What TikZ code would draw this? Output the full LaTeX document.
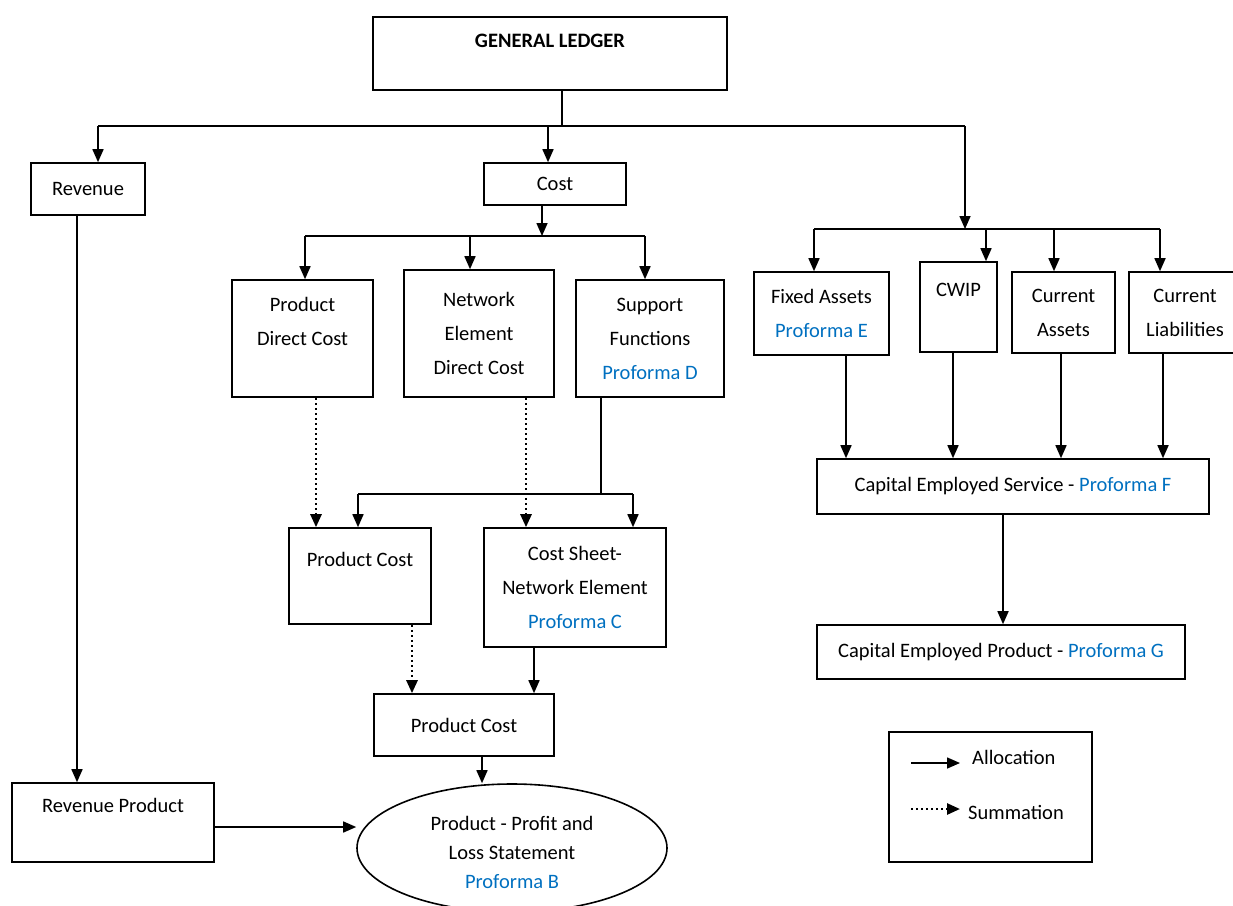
\documentclass[tikz,border=0pt]{standalone}
\usepackage{fontspec}
\setmainfont{Carlito}
\usepackage{xcolor}
\usepackage{tikz}
\usetikzlibrary{arrows.meta}
\usetikzlibrary{shapes,shapes.geometric}

\definecolor{pfblue}{RGB}{0,112,192}
\newcommand{\pform}[1]{\textcolor{pfblue}{Proforma #1}}

\begin{document}
\begin{tikzpicture}[x=1pt,y=-1pt,
    every node/.style={font=\fontsize{20.5}{34}\selectfont},
    line/.style={line width=1.6pt},
    box/.style={draw,line width=1.6pt,align=center,inner sep=0pt},
    alloc/.style={line width=1.6pt,-{Triangle[length=13pt,width=11pt]}},
    summ/.style={line width=2.6pt,dash pattern=on 2.4pt off 2.6pt,-{Triangle[length=13pt,width=11pt]}}]
  \useasboundingbox (0,0) rectangle (1233,905);

  \node[box,minimum width=354,minimum height=73] (gl) at (550,53.5) {\textbf{GENERAL LEDGER}\\[-8pt]~};
  \node[box,minimum width=114,minimum height=52] (rev) at (88,189) {Revenue};
  \node[box,minimum width=142,minimum height=42] (cost) at (555,184) {Cost};
  \node[box,minimum width=141,minimum height=117] (pdc) at (302.5,338.5) {Product\\Direct Cost\\~};
  \node[box,minimum width=150,minimum height=127] (nedc) at (479,333.5) {Network\\Element\\Direct Cost};
  \node[box,minimum width=148,minimum height=117] (sup) at (650,338.5) {Support\\Functions\\\pform{D}};
  \node[box,minimum width=142,minimum height=96] (pc1) at (360,576) {Product Cost\\~};
  \node[box,minimum width=182,minimum height=119] (cs) at (575,587.5) {Cost Sheet-\\Network Element\\\pform{C}};
  \node[box,minimum width=180,minimum height=62] (pc2) at (464,725) {Product Cost};
  \node[box,minimum width=202,minimum height=79] (rp) at (113,822.5) {Revenue Product\\~};
  \node[box,ellipse,minimum width=310,minimum height=128,text height=82pt,font=\fontsize{20.5}{29}\selectfont] (pl) at (512,848)
    {Product - Profit and\\Loss Statement\\\pform{B}};
  \node[box,minimum width=135,minimum height=83] (fa) at (821.5,313.5) {Fixed Assets\\\pform{E}};
  \node[box,minimum width=77,minimum height=90] (cwip) at (958.5,307) {CWIP\\~};
  \node[box,minimum width=103,minimum height=81] (ca) at (1063.5,312.5) {Current\\Assets};
  \node[box,minimum width=112,minimum height=81] (cl) at (1185,312.5) {Current\\Liabilities};
  \node[box,minimum width=392,minimum height=55] (ces) at (1013,486.5) {Capital Employed Service - \pform{F}};
  \node[box,minimum width=368,minimum height=54] (cep) at (1001,652) {Capital Employed Product - \pform{G}};
  \node[box,minimum width=203,minimum height=130] (leg) at (990.5,797) {};

  \coordinate (b1l) at (98,126);
  \coordinate (b1r) at (965,126);
  \coordinate (b2l) at (814,229);
  \coordinate (b2r) at (1160,229);
  \coordinate (c1l) at (305,236);
  \coordinate (c1r) at (645,236);
  \coordinate (s1l) at (358,494);
  \coordinate (s1r) at (633,494);

  \draw[line] ([xshift=12]gl.south) -- ([xshift=12]gl.south |- b1l);
  \draw[line] (b1l) -- (b1r);
  \draw[alloc] (b1l) -- (b1l |- rev.north);
  \draw[alloc] ([xshift=-7]cost.north |- b1l) -- ([xshift=-7]cost.north);
  \draw[alloc] ([xshift=-11]rev.south) -- ([xshift=-11]rev.south |- rp.north);

  \draw[alloc] (b1r) -- (b1r |- b2l);
  \draw[line] (b2l) -- (b2r);
  \draw[alloc] (b2l) -- (b2l |- fa.north);
  \draw[alloc] ([xshift=27.5]cwip.north |- b2l) -- ([xshift=27.5]cwip.north);
  \draw[alloc] ([xshift=-9.5]ca.north |- b2l) -- ([xshift=-9.5]ca.north);
  \draw[alloc] (b2r) -- (b2r |- cl.north);

  \draw[alloc] ([xshift=-13]cost.south) -- ([xshift=-13]cost.south |- c1l);
  \draw[line] (c1l) -- (c1r);
  \draw[alloc] (c1l) -- (c1l |- pdc.north);
  \draw[alloc] ([xshift=-9]nedc.north |- c1l) -- ([xshift=-9]nedc.north);
  \draw[alloc] (c1r) -- (c1r |- sup.north);

  \draw[line] ([xshift=-49]sup.south) -- ([xshift=-49]sup.south |- s1l);
  \draw[line] (s1l) -- (s1r);
  \draw[alloc] (s1l) -- (s1l |- pc1.north);
  \draw[alloc] (s1r) -- (s1r |- cs.north);

  \draw[summ] ([xshift=13.5]pdc.south) -- ([xshift=13.5]pdc.south |- pc1.north);
  \draw[summ] ([xshift=47]nedc.south) -- ([xshift=47]nedc.south |- cs.north);
  \draw[summ] ([xshift=52]pc1.south) -- ([xshift=52]pc1.south |- pc2.north);
  \draw[alloc] ([xshift=-41]cs.south) -- ([xshift=-41]cs.south |- pc2.north);
  \draw[alloc] ([xshift=18]pc2.south) -- ([xshift=18]pc2.south |- pl.north);
  \draw[alloc] ([yshift=-4.5]rp.east) -- ([yshift=-4.5]rp.east -| pl.west);

  \draw[alloc] ([xshift=24.5]fa.south) -- ([xshift=24.5]fa.south |- ces.north);
  \draw[alloc] ([xshift=-5.5]cwip.south) -- ([xshift=-5.5]cwip.south |- ces.north);
  \draw[alloc] ([xshift=-2.5]ca.south) -- ([xshift=-2.5]ca.south |- ces.north);
  \draw[alloc] ([xshift=-22]cl.south) -- ([xshift=-22]cl.south |- ces.north);
  \draw[alloc] ([xshift=-10]ces.south) -- ([xshift=-10]ces.south |- cep.north);

  \coordinate (la) at (911,763);
  \coordinate (lb) at (960,763);
  \coordinate (sa) at (911,809);
  \coordinate (sb) at (960,809);
  \draw[alloc] (la) -- (lb);
  \draw[summ] (sa) -- (sb);
  \node[anchor=west,inner sep=0pt] (lalloc) at (972,757) {Allocation};
  \node[anchor=west,inner sep=0pt] (lsum) at (968,812) {Summation};
\end{tikzpicture}
\end{document}
